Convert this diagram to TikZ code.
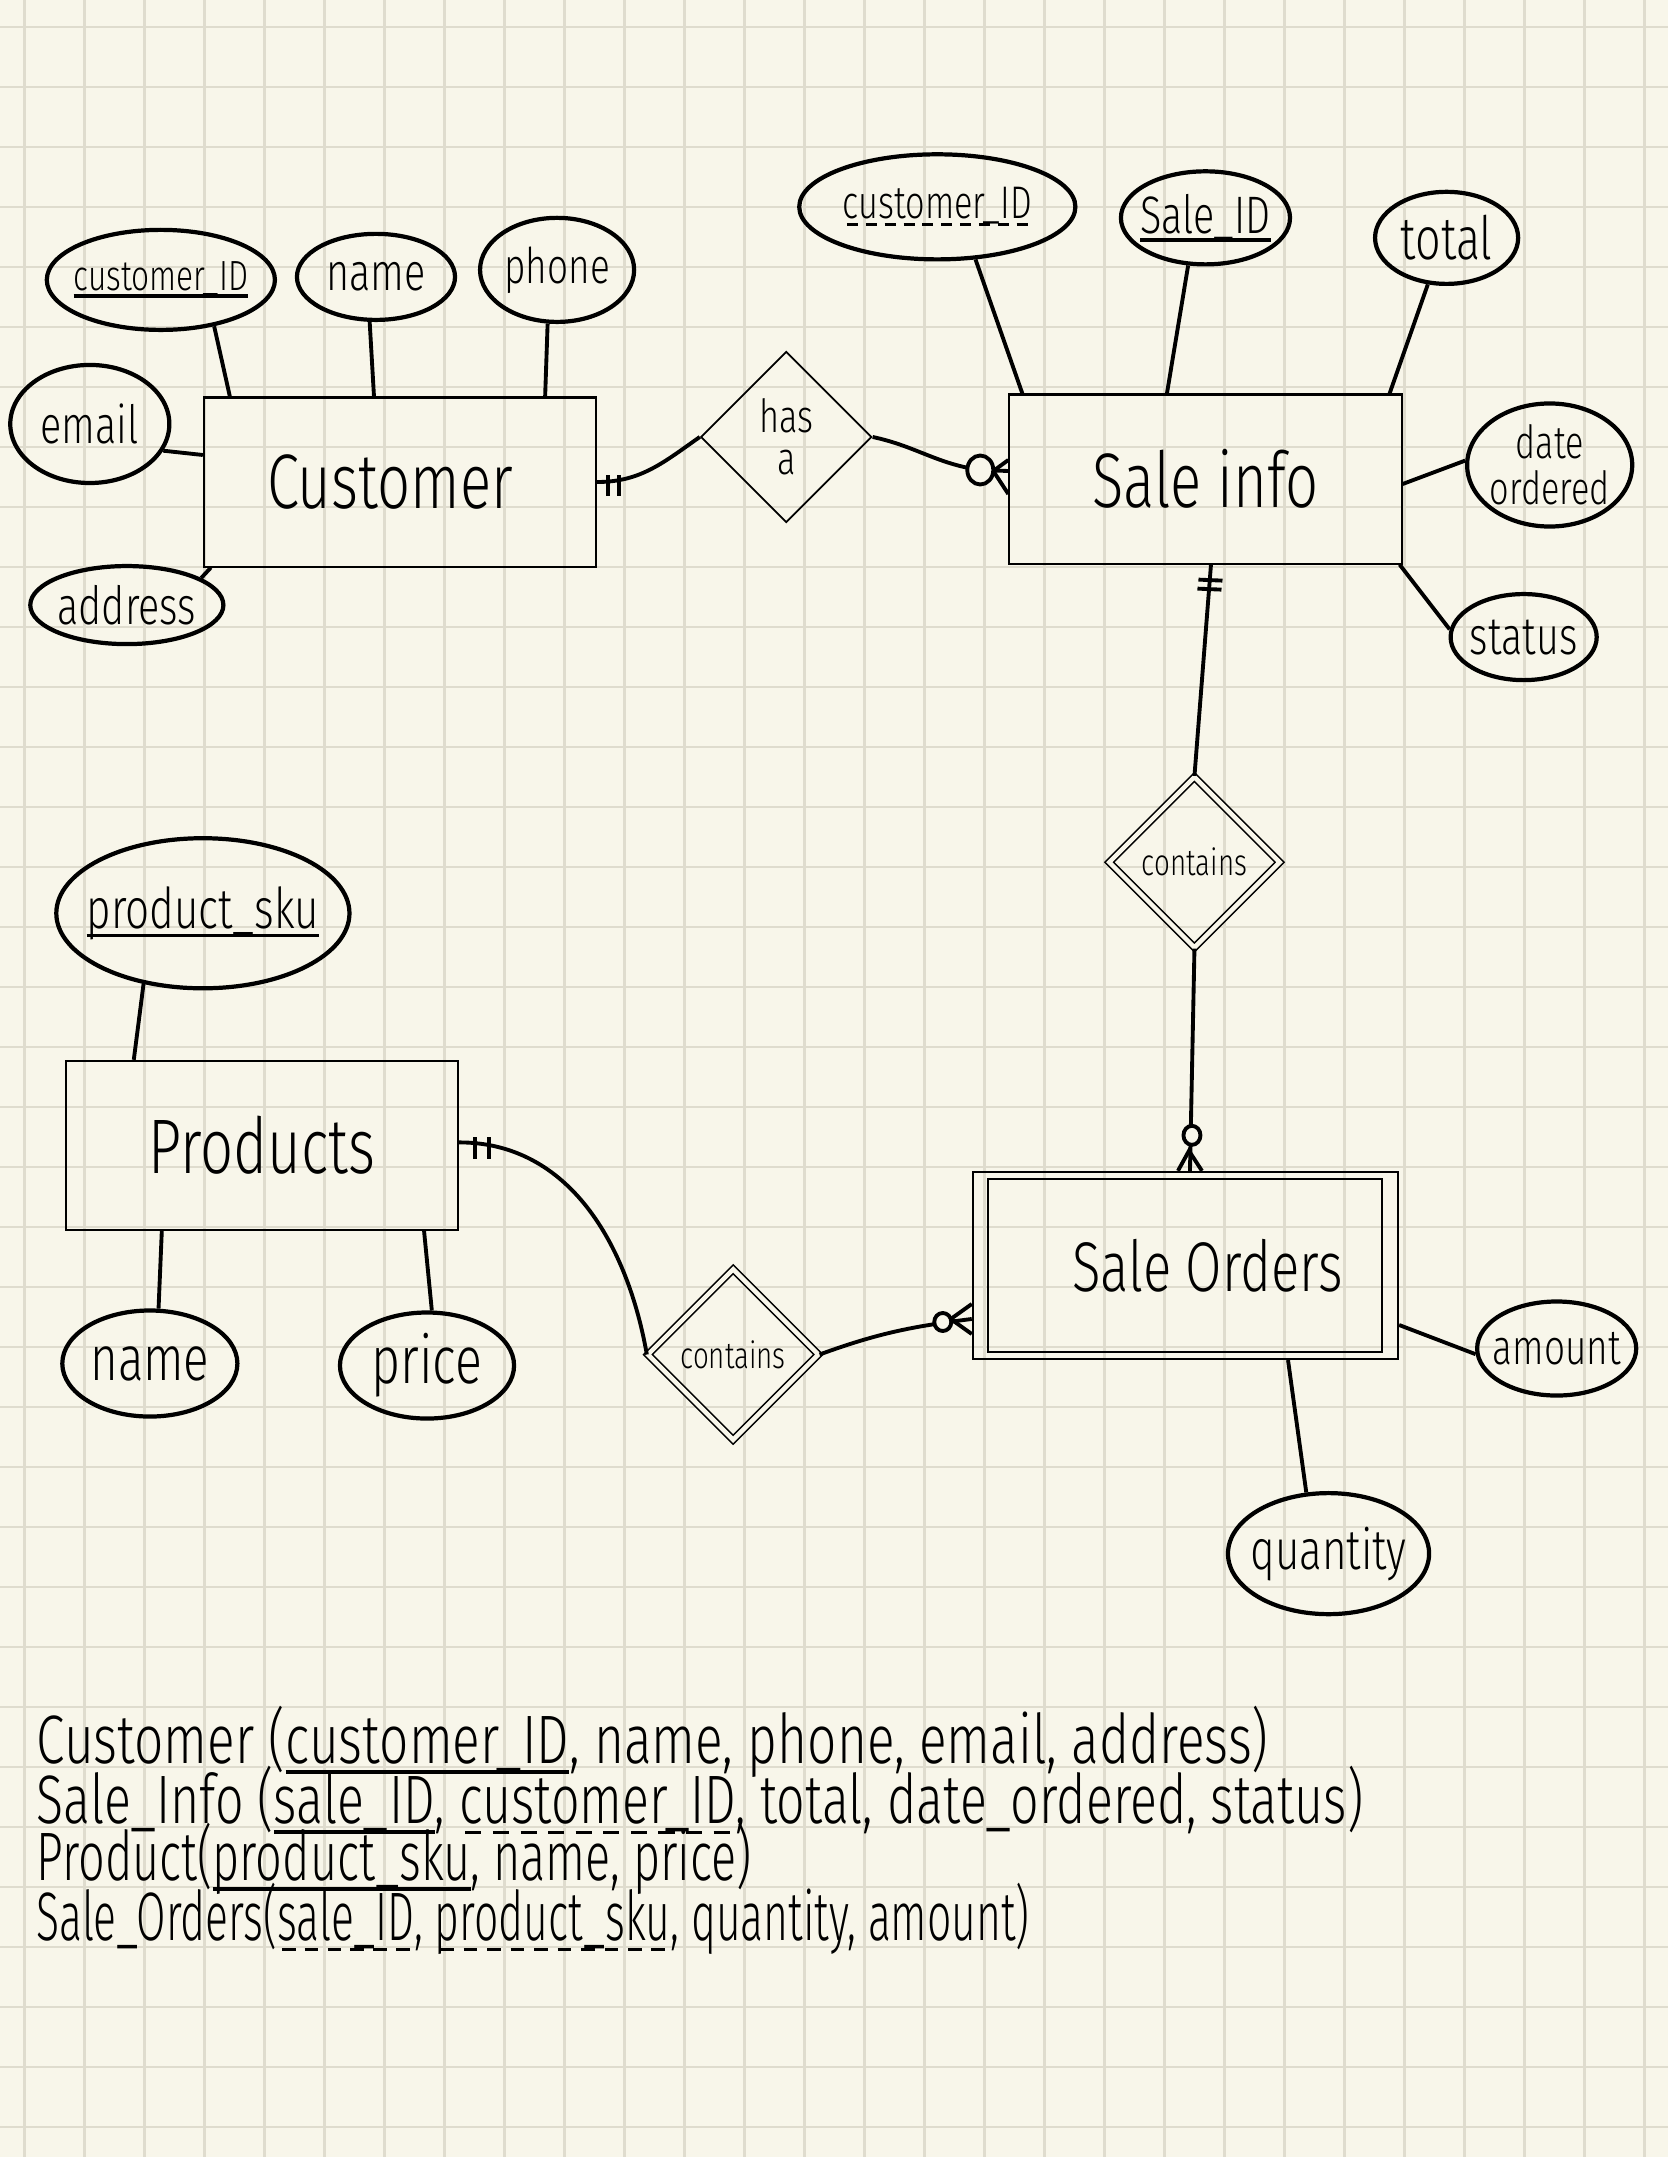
\documentclass[tikz,border=0pt]{standalone}
\usepackage{fontspec}
\setmainfont{Fira Sans}[UprightFont=* Light, FakeStretch=0.75]
\usetikzlibrary{shapes.geometric,positioning}
\definecolor{paper}{RGB}{248,246,234}
\definecolor{gridc}{RGB}{223,220,206}
% key underlines: solid for primary keys, dashed for foreign keys
\newcommand{\pkul}[1]{\setbox0\hbox{#1}\leavevmode\rlap{\rule[-0.16em]{\wd0}{1.1pt}}\box0}
\newcommand{\fkul}[1]{\setbox0\hbox{#1}\leavevmode\rlap{\hbox to \wd0{\xleaders\hbox to 0.4em{\hss\rule[-0.16em]{0.24em}{0.8pt}\hss}\hfill}}\box0}

\begin{document}
\begin{tikzpicture}[x=0.01cm, y=-0.01cm, on grid,
    entity/.style={draw, rectangle, line width=0.6pt, minimum width=3.92cm, minimum height=1.69cm, inner sep=0pt, font=\fontsize{22}{24}\selectfont},
    attrib/.style={draw, ellipse, line width=1.2pt, inner xsep=-8pt, inner ysep=-2pt, align=center, font=\fontsize{#1}{#1}\selectfont},
    attrib/.default=15,
    relation/.style={draw, diamond, aspect=1, line width=0.5pt, minimum width=1.71cm, minimum height=1.71cm, inner sep=0pt, align=center},
    weakrel/.style={relation, double=paper, double distance=1.3pt, line width=0.45pt, font=\fontsize{10.5}{12}\selectfont},
    link/.style={line width=1.1pt},
    relline/.style={anchor=base west, inner sep=0pt, text height=13pt, text depth=3pt, transform shape, font=\fontsize{19.5}{20}\selectfont}]

    \useasboundingbox (0,0) rectangle (1668,2157);
    \fill[paper] (0,0) rectangle (1668,2157);
    \foreach \gx in {0,...,27}
        \draw[gridc, line width=0.6pt] (24.5+60*\gx,0) -- (24.5+60*\gx,2157);
    \foreach \gy in {0,...,35}
        \draw[gridc, line width=0.6pt] (0,27+60*\gy) -- (1668,27+60*\gy);

    % entities and relationships
    \node[entity] (cust) at (400,482) {Customer\hspace*{0.2cm}};
    \node[relation, font=\fontsize{13}{12}\selectfont] (hasa) [above right=0.45cm and 3.86cm of cust] {has\\a};
    \node[entity] (sinfo) [below right=0.42cm and 4.19cm of hasa] {Sale info};
    \node[weakrel] (contA) [below left=3.83cm and 0.11cm of sinfo] {contains};
    \node[entity, minimum width=4.25cm, minimum height=1.87cm, font=\fontsize{20}{22}\selectfont] (sord) [below left=4.03cm and 0.09cm of contA] {\hspace*{0.44cm}Sale Orders};
    \draw[line width=0.6pt] ([shift={(0.16cm,-0.08cm)}]sord.north west) rectangle ([shift={(-0.17cm,0.08cm)}]sord.south east);
    \node[weakrel] (contB) [below left=0.89cm and 4.52cm of sord] {contains};
    \node[entity] (prod) [above left=2.09cm and 4.71cm of contB] {Products};

    % attributes
    \node[attrib=12, minimum width=2.28cm, minimum height=1.00cm] (cid) [above left=2.02cm and 2.39cm of cust] {\pkul{customer\_ID}};
    \node[attrib, minimum width=1.58cm, minimum height=0.86cm] (cname) [above left=2.05cm and 0.24cm of cust] {name};
    \node[attrib=14, minimum width=1.54cm, minimum height=1.04cm] (cphone) [above right=2.12cm and 1.57cm of cust] {phone};
    \node[attrib, minimum width=1.59cm, minimum height=1.18cm] (cemail) [above left=0.58cm and 3.10cm of cust] {email};
    \node[attrib, minimum width=1.93cm, minimum height=0.78cm] (caddr) [below left=1.23cm and 2.73cm of cust] {address};

    \node[attrib=13, minimum width=2.76cm, minimum height=1.05cm] (scid) [above left=2.72cm and 2.68cm of sinfo] {\fkul{customer\_ID}};
    \node[attrib, minimum width=1.69cm, minimum height=0.93cm] (ssid) [above=2.61cm of sinfo] {\pkul{Sale\_ID}};
    \node[attrib=17, minimum width=1.43cm, minimum height=0.92cm] (stotal) [above right=2.41cm and 2.41cm of sinfo] {total};
    \node[attrib=13, minimum width=1.65cm, minimum height=1.23cm] (sdate) [above right=0.14cm and 3.44cm of sinfo] {date\\ordered};
    \node[attrib, minimum width=1.46cm, minimum height=0.86cm] (sstatus) [below right=1.58cm and 3.18cm of sinfo] {status};

    \node[attrib=16, minimum width=2.93cm, minimum height=1.50cm] (psku) [above left=2.32cm and 0.59cm of prod] {\pkul{product\_sku}};
    \node[attrib=18, minimum width=1.75cm, minimum height=1.06cm] (pname) [below left=2.18cm and 1.12cm of prod] {name};
    \node[attrib=19, minimum width=1.74cm, minimum height=1.06cm] (pprice) [below right=2.20cm and 1.65cm of prod] {price};

    \node[attrib=14, minimum width=1.59cm, minimum height=0.94cm] (oamount) [below right=0.83cm and 3.71cm of sord] {amount};
    \node[attrib=16, minimum width=2.01cm, minimum height=1.21cm] (oqty) [below right=2.88cm and 1.43cm of sord] {quantity};

    \path[link]
        (cid.-41) edge ([xshift=0.27cm]cust.north west)
        (cname.-98) edge ([xshift=-0.26cm]cust.north)
        (cphone.-100) edge ([xshift=-0.52cm]cust.north east)
        (cemail.-20) edge ([yshift=0.27cm]cust.west)
        (caddr.20) edge ([xshift=0.08cm]cust.south west)

        (scid.-54) edge ([xshift=0.14cm]sinfo.north west)
        (ssid.-110) edge ([xshift=-0.385cm]sinfo.north)
        (stotal.-112) edge ([xshift=-0.13cm]sinfo.north east)
        (sdate.177) edge ([yshift=-0.05cm]sinfo.east)
        (sstatus.174) edge ([xshift=-0.03cm]sinfo.south east)

        (psku.-130) edge ([xshift=0.69cm]prod.north west)
        (pname.81) edge ([xshift=0.97cm]prod.south west)
        (pprice.85) edge ([xshift=-0.35cm]prod.south east)

        (oamount.184) edge ([yshift=-0.595cm]sord.east)
        (oqty.110) edge ([xshift=1.025cm]sord.south);

    % customer -- has a : exactly one
    \draw[link] (cust.east) to[out=0, in=215] (hasa.west);
    \draw[link] ([xshift=0.11cm, yshift=0.07cm]cust.east) -- ++(0,-0.21cm)
                ([xshift=0.22cm, yshift=0.07cm]cust.east) -- ++(0,-0.21cm);

    % has a -- sale info : zero or many
    \draw[link] (hasa.east) to[out=-12, in=172] ([xshift=-0.28cm, yshift=0.09cm]sinfo.west) -- ([yshift=0.08cm]sinfo.west);
    \draw[link] ([yshift=0.19cm]sinfo.west) -- ([xshift=-0.15cm, yshift=0.08cm]sinfo.west) -- ([yshift=-0.15cm]sinfo.west);
    \filldraw[link, fill=paper] ([xshift=-0.28cm, yshift=0.09cm]sinfo.west) circle[x radius=0.13cm, y radius=0.145cm];

    % sale info -- contains : exactly one
    \draw[link] ([xshift=0.055cm]sinfo.south) -- (contA.north);
    \draw[link] ([xshift=-0.07cm, yshift=-0.15cm]sinfo.south) -- ++(0.24cm,-0.01cm)
                ([xshift=-0.08cm, yshift=-0.24cm]sinfo.south) -- ++(0.24cm,-0.01cm);

    % contains -- sale orders : zero or many
    \draw[link] (contA.south) -- ([xshift=0.045cm]sord.north);
    \draw[link] ([xshift=-0.075cm]sord.north) -- ([xshift=0.035cm, yshift=0.2cm]sord.north) -- ([xshift=0.165cm]sord.north);
    \filldraw[link, fill=paper] ([xshift=0.065cm, yshift=0.355cm]sord.north) circle[x radius=0.085cm, y radius=0.095cm];

    % products -- contains : exactly one
    \draw[link] ([yshift=0.03cm]prod.east) to[out=0, in=100] (contB.west);
    \draw[link] ([xshift=0.16cm, yshift=0.08cm]prod.east) -- ++(0,-0.22cm)
                ([xshift=0.30cm, yshift=0.08cm]prod.east) -- ++(0,-0.22cm);

    % contains -- sale orders : zero or many
    \draw[link] (contB.east) to[out=20, in=187] ([yshift=-0.535cm]sord.west);
    \draw[link] ([yshift=-0.385cm]sord.west) -- ([xshift=-0.21cm, yshift=-0.535cm]sord.west) -- ([yshift=-0.685cm]sord.west);
    \filldraw[link, fill=paper] ([xshift=-0.29cm, yshift=-0.565cm]sord.west) circle[x radius=0.085cm, y radius=0.09cm];

    % relational schema
    \node[relline] (relcust) at (36,1763) {Customer (\pkul{customer\_ID}, name, phone, email, address)};
    \node[relline, xscale=0.975] (relsale) at ([yshift=-0.60cm]relcust.base west) {Sale\_Info (\pkul{sale\_ID}, \fkul{customer\_ID}, total, date\_ordered, status)};
    \node[relline, xscale=0.91] (relprod) at ([yshift=-0.57cm]relsale.base west) {Product(\pkul{product\_sku}, name, price)};
    \node[relline, xscale=0.83] (relord) at ([yshift=-0.60cm]relprod.base west) {Sale\_Orders(\fkul{sale\_ID}, \fkul{product\_sku}, quantity, amount)};

\end{tikzpicture}
\end{document}
